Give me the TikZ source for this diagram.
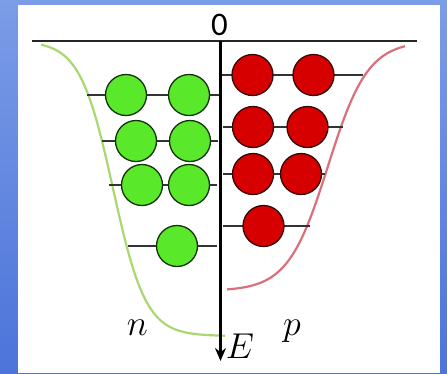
\documentclass[tikz,border=0pt]{standalone}
\usepackage{graphicx}
\usepackage{fontspec}
\newfontfamily\carlito{Carlito}
\usetikzlibrary{arrows.meta}
\definecolor{bgtop}{RGB}{123,156,230}
\definecolor{bgbot}{RGB}{76,116,218}
\definecolor{nfill}{RGB}{90,232,42}
\definecolor{nedge}{RGB}{20,50,10}
\definecolor{pfill}{RGB}{214,0,0}
\definecolor{pedge}{RGB}{50,10,10}
\definecolor{ncurve}{RGB}{170,216,112}
\definecolor{pcurve}{RGB}{217,112,122}
\newcommand{\biglbl}[1]{\scalebox{1.45}{$#1$}}
\tikzset{
  neutron/.style={circle, minimum size=41bp, inner sep=0pt, fill=nfill, draw=nedge, line width=1.3bp},
  proton/.style={circle, minimum size=41bp, inner sep=0pt, fill=pfill, draw=pedge, line width=1.3bp},
  level/.style={draw=black!80, line width=1.2bp},
  lbl/.style={font=\fontsize{24.88}{25}\selectfont, inner sep=0pt, anchor=base},
}
\begin{document}
\begin{tikzpicture}[x=1bp,y=-1bp]
\useasboundingbox (0,0) rectangle (447,373);
\shade[top color=bgtop, bottom color=bgbot] (0,0) rectangle (447,373);
\fill[white] (18,5) rectangle (440,373);
% wells
\draw[ncurve, line width=2.2bp] plot[domain=41:225, samples=120, smooth] (\x, {41+295/(1+exp(-(\x-113)/16.5))});
\draw[pcurve, line width=2.2bp] plot[domain=227:405, samples=120, smooth] (\x, {41+250/(1+exp((\x-328)/20))});
% top line
\coordinate (tl) at (32,41);
\coordinate (tr) at (417,41);
\draw[black!85, line width=1.5bp] (tl) -- (tr);
% level end points
\coordinate (gA1) at (87,95);  \coordinate (gB1) at (220,95);
\coordinate (gA2) at (102,141); \coordinate (gB2) at (218,141);
\coordinate (gA3) at (109,185); \coordinate (gB3) at (217,185);
\coordinate (gA4) at (128,246); \coordinate (gB4) at (217,246);
\coordinate (rA1) at (220,75);  \coordinate (rB1) at (363,75);
\coordinate (rA2) at (223,127); \coordinate (rB2) at (343,127);
\coordinate (rA3) at (223,174); \coordinate (rB3) at (325,174);
\coordinate (rA4) at (223,226); \coordinate (rB4) at (310,226);
\foreach \i in {1,2,3,4}{
  \draw[level] (gA\i) -- (gB\i);
  \draw[level] (rA\i) -- (rB\i);
}
% axis
\coordinate (atop) at (220.5,41);
\coordinate (abot) at (220.5,361);
\draw[line width=3bp, -{Stealth[length=13bp,width=11bp]}] (atop) -- (abot);
% neutrons
\node[neutron] (g11) at (126,95) {};
\node[neutron] (g12) at (189,95) {};
\node[neutron] (g21) at (136,141) {};
\node[neutron] (g22) at (190,141) {};
\node[neutron] (g31) at (142,185) {};
\node[neutron] (g32) at (189,185) {};
\node[neutron] (g41) at (177,246) {};
% protons
\node[proton] (r11) at (252.5,75) {};
\node[proton] (r12) at (313.5,75) {};
\node[proton] (r21) at (253,127) {};
\node[proton] (r22) at (307.5,127) {};
\node[proton] (r31) at (253,174) {};
\node[proton] (r32) at (301,174) {};
\node[proton] (r41) at (263.5,226) {};
% labels
\node[lbl, font=\carlito\fontsize{33}{33}\selectfont] (zero) at (219.5,35) {0};
\node[lbl] (n) at (137.5,335) {\biglbl{n}};
\node[lbl] (p) at (292,335) {\biglbl{p}};
\node[lbl] (E) at (240,358) {\biglbl{E}};
\end{tikzpicture}
\end{document}
